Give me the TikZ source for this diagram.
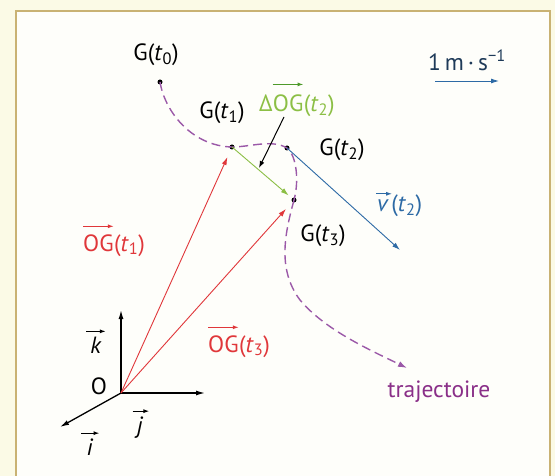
\documentclass[tikz,border=0pt]{standalone}
\usepackage{fontspec}
\setmainfont{PT Sans}
\usetikzlibrary{arrows.meta,calc}
\definecolor{bgc}{HTML}{FBFAE6}
\definecolor{framec}{HTML}{C9B273}
\definecolor{inc}{HTML}{FEFEFA}
\definecolor{vred}{HTML}{E0373A}
\definecolor{vgreen}{HTML}{8CBF45}
\definecolor{dgreen}{HTML}{4E9A2A}
\definecolor{vblue}{HTML}{2D6AA5}
\definecolor{navy}{HTML}{1E3A58}
\definecolor{trajc}{HTML}{9B59A8}
\definecolor{trajt}{HTML}{8A2F88}
\begin{document}
\begin{tikzpicture}[x=1pt,y=-1pt,
  lab/.style={font=\fontsize{23.5}{27}\selectfont, inner sep=0pt},
  vec/.style={-{Latex[length=8pt,width=5pt]}, line width=0.9pt},
  axisl/.style={-{Latex[length=9pt,width=5pt]}, line width=1.3pt, black},
  ovar/.style={-{Latex[length=6pt,width=4pt]}, line width=1.1pt},
  dot/.style={circle, fill=black, inner sep=0pt, minimum size=5pt},
  traj/.style={draw=trajc, dash pattern=on 9pt off 5pt, line width=1.4pt},
]
\useasboundingbox (0,0) rectangle (555,476);
\fill[bgc] (0,0) rectangle (555,476);
\begin{scope}
\clip (0,0) rectangle (555,476);
\filldraw[fill=inc, draw=framec, line width=2.5pt] (16,11) rectangle (550,500);
\end{scope}

% points
\node[dot] (g0) at (160,82) {};
\node[dot] (g1) at (232,147) {};
\node[dot] (g2) at (287,148) {};
\node[dot] (g3) at (294,200) {};
\coordinate (O) at (121,393);
\coordinate (tend) at (407,368);
\coordinate (vend) at (400,250);
\coordinate (kend) at (121,310);
\coordinate (jend) at (205,393);
\coordinate (iend) at (60,427);
\coordinate (s1) at (435,81);
\coordinate (s2) at (499,81);
\coordinate (pa) at (284,117);
\coordinate (pb) at (259,168);

% trajectory
\draw[traj] (g0.center) .. controls (165,112) and (192,146) .. (g1.center)
  .. controls (250,147) and (272,139) .. (g2.center)
  .. controls (297,156) and (299,182) .. (g3.center);
\draw[traj, -{Latex[length=9pt,width=6pt]}] (g3.center) .. controls (286,230) and (276,268) .. (300,300)
  .. controls (325,330) and (370,350) .. (tend);

% axes
\draw[axisl] (O) -- (kend);
\draw[axisl] (O) -- (jend);
\draw[axisl] (O) -- (iend);

% vectors
\draw[vec, vred, shorten >=12pt] (O) -- (g3.center);
\draw[vec, vred, shorten >=11pt] (O) -- (g1.center);
\draw[vec, vgreen, shorten >=7pt] (g1.center) -- (g3.center);
\draw[vec, vblue] (g2.center) -- (vend);
\draw[vec, vblue] (s1) -- (s2);
\draw[-{Latex[length=7pt,width=5pt]}, line width=1pt, black] (pa) -- (pb);

% labels
\node[lab] (lg0) at (156,55) {G(\textit{t}\textsubscript{0})};
\node[lab] (lg1) at (222,113) {G(\textit{t}\textsubscript{1})};
\node[lab] (lg2) at (342,150) {G(\textit{t}\textsubscript{2})};
\node[lab] (lg3) at (323,236) {G(\textit{t}\textsubscript{3})};
\node[lab] (lO) at (99,386) {O};
\node[lab, navy] (lscale) at (467,60) {1\,m\,·\,s\textsuperscript{−1}};
\node[lab, trajt] (ltraj) at (439,392) {trajectoire};

\node[lab, vred, anchor=west] (og1) at (83,243) {OG};
\node[lab, vred, anchor=base west] (og1t) at (og1.base east) {(\textit{t}\textsubscript{1})};
\draw[ovar, vred] ([yshift=8pt]og1.north west) -- ([yshift=8pt]og1.north east);

\node[lab, vred, anchor=west] (og3) at (208,344) {OG};
\node[lab, vred, anchor=base west] (og3t) at (og3.base east) {(\textit{t}\textsubscript{3})};
\draw[ovar, vred] ([yshift=8pt]og3.north west) -- ([yshift=8pt]og3.north east);

\node[lab, vgreen, anchor=west] (dog0) at (259,103) {Δ};
\node[lab, vgreen, anchor=base west] (dog1) at (dog0.base east) {OG};
\node[lab, vgreen, anchor=base west] (dog2) at (dog1.base east) {(\textit{t}\textsubscript{2})};
\draw[ovar, dgreen, line width=1.6pt] ([yshift=10pt]dog1.north west) -- ([yshift=10pt]dog1.north east);

\node[lab, vblue, anchor=west] (lv) at (377,206) {\textit{v}};
\node[lab, vblue, anchor=base west] (lvt) at ([xshift=2pt]lv.base east) {(\textit{t}\textsubscript{2})};
\draw[ovar, vblue] ([xshift=-1pt,yshift=6pt]lv.north west) -- ([xshift=3pt,yshift=6pt]lv.north east);

\node[lab, anchor=base] (lk) at (96,353) {\textit{k}};
\draw[ovar, black] ([xshift=-4pt,yshift=5pt]lk.north west) -- ([xshift=4pt,yshift=5pt]lk.north east);
\node[lab, anchor=base] (lj) at (140,433) {\textit{j}};
\draw[ovar, black] ([xshift=-4pt,yshift=5pt]lj.north west) -- ([xshift=6pt,yshift=5pt]lj.north east);
\node[lab, anchor=base] (li) at (90,455) {\textit{i}};
\draw[ovar, black] ([xshift=-5pt,yshift=5pt]li.north west) -- ([xshift=6pt,yshift=5pt]li.north east);
\end{tikzpicture}
\end{document}
